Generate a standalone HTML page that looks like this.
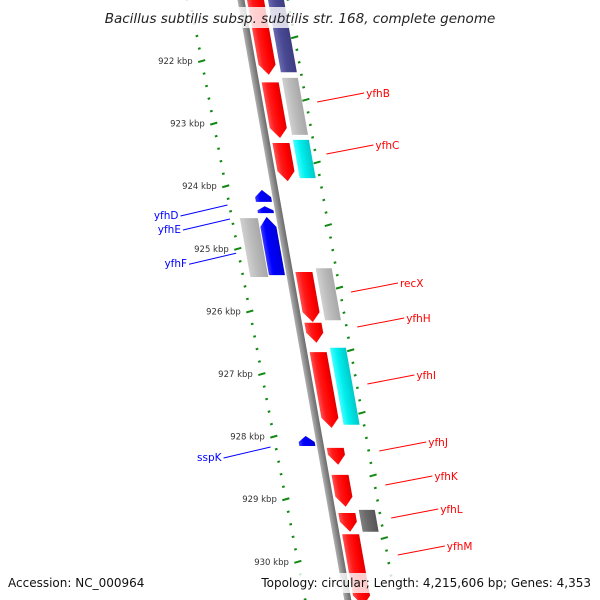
<!DOCTYPE html>
<html><head><meta charset="utf-8"><style>
body{margin:0;background:#fff}
svg{display:block;font-family:"DejaVu Sans","Liberation Sans",sans-serif}
</style></head><body>
<svg id="c" width="600" height="600" viewBox="0 0 600 600">
<defs>
<linearGradient id="gRed" x1="0" x2="1"><stop offset="0" stop-color="#ff5050"/><stop offset="0.3" stop-color="#ff1a1a"/><stop offset="0.7" stop-color="#ff0000"/><stop offset="1" stop-color="#e00000"/></linearGradient>
<linearGradient id="gBlue" x1="0" x2="1"><stop offset="0" stop-color="#3a3aff"/><stop offset="0.3" stop-color="#0000ff"/><stop offset="1" stop-color="#0000d8"/></linearGradient>
<linearGradient id="gGray" x1="0" x2="1"><stop offset="0" stop-color="#d0d0d0"/><stop offset="0.4" stop-color="#bdbdbd"/><stop offset="1" stop-color="#a8a8a8"/></linearGradient>
<linearGradient id="gCyan" x1="0" x2="1"><stop offset="0" stop-color="#40ffff"/><stop offset="0.4" stop-color="#00eeee"/><stop offset="1" stop-color="#00c8c8"/></linearGradient>
<linearGradient id="gNavy" x1="0" x2="1"><stop offset="0" stop-color="#6a6ab0"/><stop offset="0.4" stop-color="#4b4b96"/><stop offset="1" stop-color="#3c3c80"/></linearGradient>
<linearGradient id="gDark" x1="0" x2="1"><stop offset="0" stop-color="#808080"/><stop offset="0.4" stop-color="#6a6a6a"/><stop offset="1" stop-color="#555"/></linearGradient>
<linearGradient id="gBack" x1="0" x2="1"><stop offset="0" stop-color="#b0b0b0"/><stop offset="0.5" stop-color="#8a8a8a"/><stop offset="1" stop-color="#6a6a6a"/></linearGradient>
</defs>
<g id="skew" transform="matrix(1,0,0.178,1,0,0)"></g>
<g id="ticks"></g>
<g id="labels"></g>
<rect x="100" y="7" width="400" height="21" fill="#fff" fill-opacity="0.8"/>
<text x="300" y="23" text-anchor="middle" font-style="italic" font-size="13.5" fill="#222">Bacillus subtilis subsp. subtilis str. 168, complete genome</text>
<rect x="0" y="573" width="600" height="20" fill="#fff" fill-opacity="0.8"/>
<text x="8" y="587" font-size="12" fill="#111">Accession: NC_000964</text>
<text x="591" y="587" font-size="12" fill="#111" text-anchor="end">Topology: circular; Length: 4,215,606 bp; Genes: 4,353</text>
</svg>
<script>
// data (positions in kbp)
const fwdStarts=[921.0,922.34,923.31,925.37,926.18,926.65,928.18,928.61,929.22,929.56];
const fwdEnds=[922.22,923.23,923.92,926.17,926.50,927.86,928.45,929.12,929.52,930.7];
const featStarts=[920.9,922.27,923.26,925.31,926.58,929.17];
const featEnds=[922.18,923.18,923.87,926.14,927.81,929.52];
const featColors=['gNavy','gGray','gCyan','gGray','gCyan','gDark'];
const revStarts=[924.06,924.32,924.49,927.99];
const revEnds=[924.25,924.43,925.42,928.15];
const revFeatStarts=[924.51];
const revFeatEnds=[925.45];
const tickLabels=['922 kbp','923 kbp','924 kbp','925 kbp','926 kbp','927 kbp','928 kbp','929 kbp','930 kbp'];
const tickValues=[922,923,924,925,926,927,928,929,930];
const fwdNames=['yfhB','yfhC','recX','yfhH','yfhI','yfhJ','yfhK','yfhL','yfhM'];
const fwdNameKbp=[922.654,923.485,925.69,926.249,927.159,928.229,928.773,929.30,929.891];
const revNames=['yfhD','yfhE','yfhF','sspK'];
const revNameKbp=[924.30,924.523,925.07,928.165];

const NS='http://www.w3.org/2000/svg';
const Y=k=>(k-921.025)*62.6;
const BX=241;
function mk(tag,attrs,parent){const e=document.createElementNS(NS,tag);for(const a in attrs)e.setAttribute(a,attrs[a]);parent.appendChild(e);return e;}
const sk=document.getElementById('skew'),tk=document.getElementById('ticks'),lb=document.getElementById('labels');
let bb=mk('rect',{x:BX-3.5,y:-10,width:7,height:630,fill:'url(#gBack)'},sk);


function arrow(x0,x1,y0,y1,dir,fill,name){
  const h=Math.min(10,(y1-y0)*0.6),m=(x0+x1)/2;let p;
  if(dir>0)p=`${x0},${y0} ${x1},${y0} ${x1},${y1-h} ${m},${y1} ${x0},${y1-h}`;
  else p=`${m},${y0} ${x1},${y0+h} ${x1},${y1} ${x0},${y1} ${x0},${y0+h}`;
  const e=mk('polygon',{points:p,fill:fill},sk);
  
  
}
function box(x0,x1,y0,y1,fill,name){
  const e=mk('rect',{x:x0,y:y0,width:x1-x0,height:y1-y0,fill:fill},sk);
  
  
}
fwdStarts.forEach((s,i)=>arrow(BX+6,BX+23,Y(s),Y(fwdEnds[i]),1,'url(#gRed)','forward-gene-'+i));
featStarts.forEach((s,i)=>box(BX+27,BX+43,Y(s),Y(featEnds[i]),'url(#'+featColors[i]+')','forward-feature-'+i));
revStarts.forEach((s,i)=>arrow(BX-21,BX-5,Y(s),Y(revEnds[i]),-1,'url(#gBlue)','reverse-gene-'+i));
revFeatStarts.forEach((s,i)=>box(BX-40,BX-22,Y(s),Y(revFeatEnds[i]),'url(#gGray)','reverse-feature-'+i));
const inX=y=>190+0.192*y, outX=y=>288+0.179*y;
for(let k=920.8;k<=931;k+=0.2){
  const kr=Math.round(k*10)/10;
  const y=Y(kr);
  if(y<-5||y>605)continue;
  const major=Math.abs(kr-Math.round(kr))<0.01;
  const w=major?7:2.5;
  let e=mk('line',{x1:inX(y)-w/2,y1:y+(major?1:0.4),x2:inX(y)+w/2,y2:y-(major?1:0.4),stroke:'#118811','stroke-width':2},tk);
  
  
  const y2=Y(kr-0.38);
  if(y2>-5&&y2<605){
    e=mk('line',{x1:outX(y2)-w/2,y1:y2+(major?1:0.4),x2:outX(y2)+w/2,y2:y2-(major?1:0.4),stroke:'#118811','stroke-width':2},tk);
    
    
  }
}
tickValues.forEach((v,i)=>{
  const y=Y(v);
  const t=mk('text',{x:inX(y)-9,y:y+3,'font-size':8.5,fill:'#333','text-anchor':'end'},lb);
  t.textContent=tickLabels[i];
  
  
});
fwdNames.forEach((n,i)=>{
  const y=Y(fwdNameKbp[i]);const x0=243+0.178*y+56;
  let l=mk('line',{x1:x0,y1:y,x2:x0+47,y2:y-9,stroke:'#ff0000','stroke-width':1},lb);
  
  
  const t=mk('text',{x:x0+49,y:y-5,'font-size':10.5,fill:'#ff0000'},lb);
  t.textContent=n;
  
  
});
revNames.forEach((n,i)=>{
  const y=Y(revNameKbp[i]);const x1=243+0.178*y-52;
  let l=mk('line',{x1:x1,y1:y,x2:x1-47,y2:y+11,stroke:'#0000ff','stroke-width':1},lb);
  
  
  const t=mk('text',{x:x1-49,y:y+14,'font-size':10.5,fill:'#0000ff','text-anchor':'end'},lb);
  t.textContent=n;
  
  
});
</script>
</body></html>
